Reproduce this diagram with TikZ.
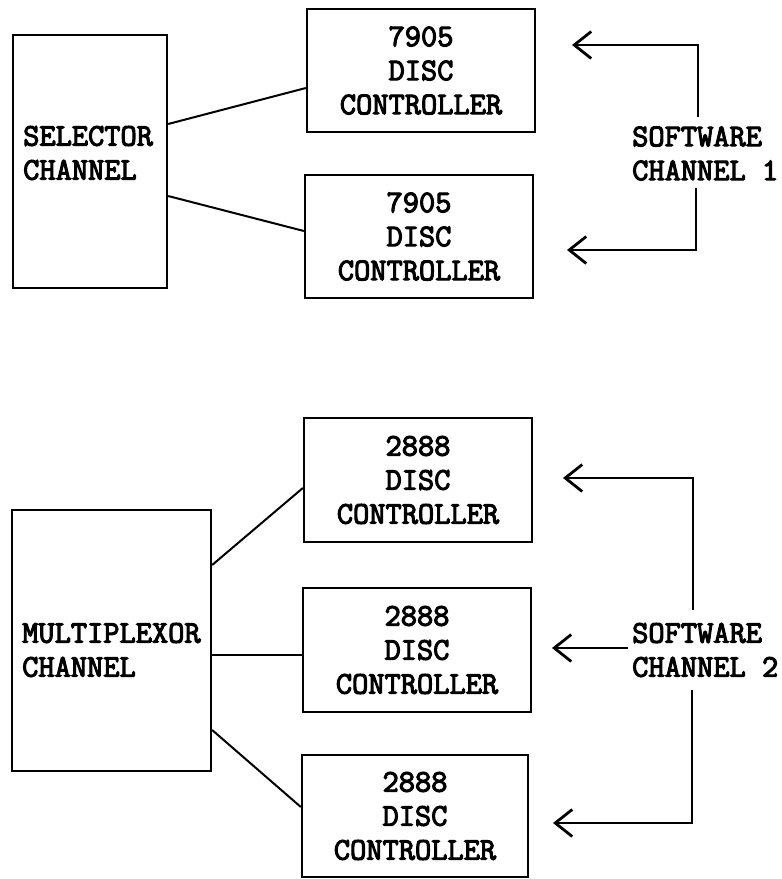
\documentclass[tikz,border=0pt]{standalone}
\usepackage{fontspec}
\newfontfamily\typew{Latin Modern Mono}[FakeBold=3.5]
\usetikzlibrary{arrows.meta}

\begin{document}
\begin{tikzpicture}[x=1pt,y=-1pt,
  every node/.style={font=\typew\fontsize{31.5}{34}\selectfont, inner sep=0pt},
  unit/.style={draw, line width=2.3pt, align=center},
  ctrl/.style={unit, minimum width=228pt, minimum height=123pt},
  label/.style={align=left, anchor=west},
  link/.style={line width=2pt},
  swarrow/.style={line width=2pt, -{Straight Barb[length=17pt,width=27pt,line width=2.8pt]}}
]
\useasboundingbox (0,0) rectangle (782,879);

% --- selector channel group ---
\node[unit, minimum width=154pt, minimum height=253pt] (sel) at (90,161.5) {};
\node[label] (seltxt) at (23,153) {SELECTOR\\CHANNEL};
\node[ctrl] (d1) at (421,70.5) {7905\\DISC\\CONTROLLER};
\node[ctrl] (d2) at (419,236.5) {7905\\DISC\\CONTROLLER};

\draw[link] ([yshift=37.5pt]sel.east) -- ([yshift=-17.5pt]d1.west);
\draw[link] ([yshift=-34.5pt]sel.east) -- ([yshift=5.5pt]d2.west);

\node[label] (sw1) at (632,153.5) {SOFTWARE\\CHANNEL 1};
\coordinate (s1up) at (698,117);
\coordinate (s1upc) at (698,45);
\coordinate (s1uptip) at (572,45);
\coordinate (s1dn) at (696,188);
\coordinate (s1dnc) at (696,250);
\coordinate (s1dntip) at (567,250);
\draw[swarrow] (s1up) -- (s1upc) -- (s1uptip);
\draw[swarrow] (s1dn) -- (s1dnc) -- (s1dntip);

% --- multiplexor channel group ---
\node[unit, minimum width=199pt, minimum height=261pt] (mux) at (111.5,640.5) {};
\node[label] (muxtxt) at (22,650) {MULTIPLEXOR\\CHANNEL};
\node[ctrl, minimum height=124pt] (e1) at (418,480) {2888\\DISC\\CONTROLLER};
\node[ctrl, minimum height=124pt] (e2) at (417,650) {2888\\DISC\\CONTROLLER};
\node[ctrl, minimum width=226pt, minimum height=122pt] (e3) at (415,816) {2888\\DISC\\CONTROLLER};

\draw[link] ([yshift=75.5pt]mux.east) -- ([yshift=-8pt]e1.west);
\draw[link] ([yshift=-14.5pt]mux.east) -- ([yshift=-5pt]e2.west);
\draw[link] ([yshift=-89.5pt]mux.east) -- ([yshift=9pt]e3.west);

\node[label] (sw2) at (632,650) {SOFTWARE\\CHANNEL 2};
\coordinate (s2up) at (693,610);
\coordinate (s2upc) at (693,478);
\coordinate (s2uptip) at (563,478);
\coordinate (s2mid) at (628,648);
\coordinate (s2midtip) at (552,648);
\coordinate (s2dn) at (692,690);
\coordinate (s2dnc) at (692,823);
\coordinate (s2dntip) at (553,823);
\draw[swarrow] (s2up) -- (s2upc) -- (s2uptip);
\draw[swarrow] (s2mid) -- (s2midtip);
\draw[swarrow] (s2dn) -- (s2dnc) -- (s2dntip);
\end{tikzpicture}
\end{document}
